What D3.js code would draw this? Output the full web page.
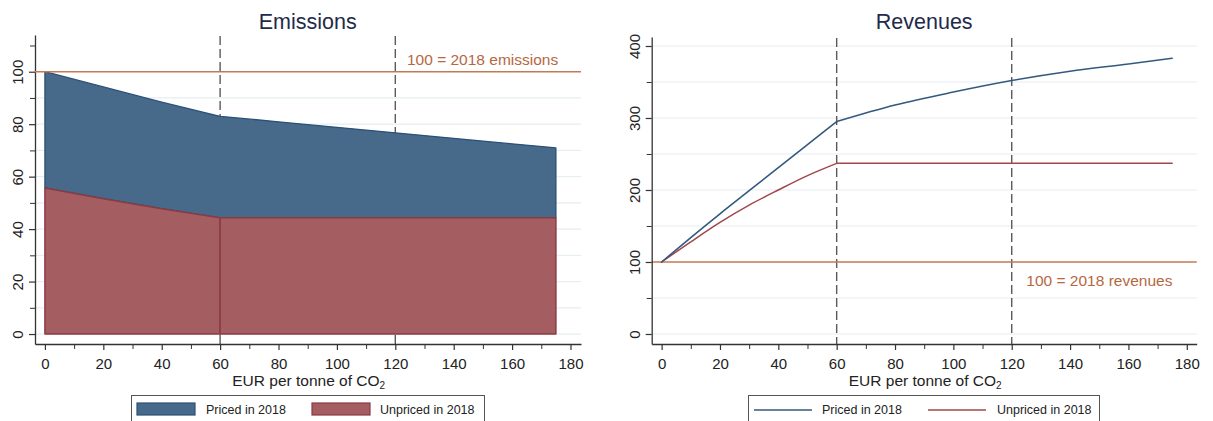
<!DOCTYPE html>
<html>
<head>
<meta charset="utf-8">
<script src="https://cdn.jsdelivr.net/npm/d3@7"></script>
<style>
  html, body { margin: 0; padding: 0; background: #ffffff; }
  svg { display: block; font-family: "Liberation Sans", Arial, sans-serif; }
</style>
</head>
<body>
<svg id="chart" width="1213" height="421"></svg>
<script>
// ---- Data ----
// Carbon price (EUR per tonne of CO2)
const emissionPrices = [0, 20, 40, 60, 80, 100, 120, 140, 160, 175];
// Emissions index (2018 = 100): total (priced + unpriced) and unpriced-in-2018 part
const emissionsPriced = [100, 94.2, 88.4, 83, 80.9, 78.8, 76.7, 74.6, 72.5, 71];
const emissionsUnpriced = [55.7, 51.6, 47.8, 44.3, 44.3, 44.3, 44.3, 44.3, 44.3, 44.3];

const revenuePrices = [0, 10, 20, 30, 40, 50, 60, 80, 100, 120, 140, 160, 175];
// Revenues index (2018 = 100)
const revenuesPriced = [100, 134, 167, 199, 231, 263, 295, 318, 336, 352, 365, 375, 383];
const revenuesUnpriced = [100, 128, 155, 179, 200, 220, 237, 237, 237, 237, 237, 237, 237];

const priceMarkers = [60, 120];
const xTicks = [0, 20, 40, 60, 80, 100, 120, 140, 160, 180];
const xMinorTicks = [10, 30, 50, 70, 90, 110, 130, 150, 170];
const emissionTicks = [0, 20, 40, 60, 80, 100];
const emissionMinorTicks = [10, 30, 50, 70, 90, 110];
const emissionGrid = [0, 10, 20, 30, 40, 50, 60, 70, 80, 90];
const revenueTicks = [0, 100, 200, 300, 400];
const revenueMinorTicks = [50, 150, 250, 350];
const revenueGrid = [0, 50, 150, 200, 250, 300, 350, 400];
const seriesNames = ["Priced in 2018", "Unpriced in 2018"];

// ---- Styles ----
const C = {
  blueFill: "#476a8b",
  blueLine: "#2b5077",
  redFill: "#a45d61",
  redLine: "#8c3a42",
  blueCurve: "#34597f",
  redCurve: "#a2464d",
  ref: "#c37a52",
  refText: "#b5683f",
  grid: "#e6eef1",
  axis: "#333333",
  text: "#222222",
  title: "#1e2b4a",
  dash: "#5a5a5a"
};

const svg = d3.select("#chart");

function panel(opts) {
  const g = svg.append("g");
  const x = d3.scaleLinear().domain(opts.xDomain).range(opts.xRange);
  const y = d3.scaleLinear().domain(opts.yDomain).range(opts.yRange);
  const [x0, x1] = opts.xRange;
  const [yb, yt] = opts.yRange;

  // gridlines
  g.append("g").selectAll("line").data(opts.grid).join("line")
    .attr("x1", x0).attr("x2", x1)
    .attr("y1", d => y(d)).attr("y2", d => y(d))
    .attr("stroke", C.grid).attr("stroke-width", 1.2);

  // vertical dashed markers
  g.append("g").selectAll("line").data(priceMarkers).join("line")
    .attr("x1", d => x(d)).attr("x2", d => x(d))
    .attr("y1", yt + 1).attr("y2", yb)
    .attr("stroke", C.dash).attr("stroke-width", 1.4)
    .attr("stroke-dasharray", "9,4");

  const layer = g.append("g");

  // axes
  const xAxis = g.append("g").attr("transform", `translate(0,${yb})`)
    .call(d3.axisBottom(x).tickValues(xTicks).tickSize(6).tickSizeOuter(0).tickFormat(d3.format("d")));
  g.append("g").attr("transform", `translate(0,${yb})`)
    .call(d3.axisBottom(x).tickValues(xMinorTicks).tickSize(5).tickSizeOuter(0).tickFormat(""))
    .select(".domain").remove();
  xAxis.select(".domain").attr("stroke", C.axis).attr("stroke-width", 1.3);
  xAxis.selectAll(".tick line").attr("stroke", C.axis).attr("stroke-width", 1.2);
  xAxis.selectAll(".tick text").attr("y", 14).attr("fill", C.text)
    .attr("font-size", "15px").attr("font-family", "Liberation Sans, Arial, sans-serif");

  const yAxis = g.append("g").attr("transform", `translate(${x0},0)`)
    .call(d3.axisLeft(y).tickValues(opts.yTicks).tickSize(6).tickSizeOuter(0).tickFormat(d3.format("d")));
  g.append("g").attr("transform", `translate(${x0},0)`)
    .call(d3.axisLeft(y).tickValues(opts.yMinor).tickSize(5).tickSizeOuter(0).tickFormat(""))
    .select(".domain").remove();
  yAxis.select(".domain").attr("stroke", C.axis).attr("stroke-width", 1.3);
  yAxis.selectAll(".tick line").attr("stroke", C.axis).attr("stroke-width", 1.2);
  yAxis.selectAll(".tick text")
    .attr("x", 0).attr("y", -12).attr("dy", 0)
    .attr("transform", "rotate(-90)")
    .attr("text-anchor", "middle").attr("fill", C.text)
    .attr("font-size", "15px").attr("font-family", "Liberation Sans, Arial, sans-serif");
  g.selectAll(".tick line").attr("stroke", C.axis);

  // title
  const cx = (x(0) + x(180)) / 2;
  g.append("text").attr("x", cx).attr("y", 29).attr("text-anchor", "middle")
    .attr("font-size", "21.5px").attr("fill", C.title).text(opts.title);

  // x-axis title with subscript
  const xt = g.append("text").attr("x", cx + 1).attr("y", 386).attr("text-anchor", "middle")
    .attr("font-size", "15.5px").attr("fill", C.text);
  xt.append("tspan").text("EUR per tonne of CO");
  xt.append("tspan").attr("font-size", "10px").attr("dy", 3).text("2");

  return { g, x, y, layer, x0, x1, yb, yt };
}

// ---------- Emissions panel ----------
const L = panel({
  xDomain: [-3.4, 183.6], xRange: [35, 581],
  yDomain: [-3.8, 114], yRange: [344, 35],
  grid: emissionGrid, yTicks: emissionTicks, yMinor: emissionMinorTicks,
  title: "Emissions"
});

const emData = emissionPrices.map((p, i) => ({ p, top: emissionsPriced[i], low: emissionsUnpriced[i] }));

// priced-in-2018 band (between unpriced level and total)
L.layer.append("path").datum(emData)
  .attr("d", d3.area().x(d => L.x(d.p)).y0(d => L.y(d.low)).y1(d => L.y(d.top)))
  .attr("fill", C.blueFill).attr("stroke", C.blueLine).attr("stroke-width", 1.3)
  .attr("stroke-linejoin", "round");

// unpriced-in-2018 band, drawn in two pieces split at the first price marker
const splitAt = priceMarkers[0];
[emData.filter(d => d.p <= splitAt), emData.filter(d => d.p >= splitAt)].forEach(seg => {
  L.layer.append("path").datum(seg)
    .attr("d", d3.area().x(d => L.x(d.p)).y0(L.y(0)).y1(d => L.y(d.low)))
    .attr("fill", C.redFill).attr("stroke", C.redLine).attr("stroke-width", 1.5)
    .attr("stroke-linejoin", "round");
});

// reference line: 100 = 2018 level
L.g.append("line").attr("x1", L.x0).attr("x2", L.x1)
  .attr("y1", L.y(100)).attr("y2", L.y(100))
  .attr("stroke", C.ref).attr("stroke-width", 1.6);
L.g.append("text").attr("x", L.x(124)).attr("y", L.y(100) - 7)
  .attr("font-size", "15.5px").attr("fill", C.refText).text("100 = 2018 emissions");

// ---------- Revenues panel ----------
const R = panel({
  xDomain: [-3.4, 183.4], xRange: [651.7, 1196.7],
  yDomain: [-13.9, 412.5], yRange: [344, 37],
  grid: revenueGrid, yTicks: revenueTicks, yMinor: revenueMinorTicks,
  title: "Revenues"
});

R.layer.append("line").attr("x1", R.x0).attr("x2", R.x1)
  .attr("y1", R.y(100)).attr("y2", R.y(100))
  .attr("stroke", C.ref).attr("stroke-width", 1.6);
R.g.append("text").attr("x", R.x(125)).attr("y", R.y(100) + 24)
  .attr("font-size", "15.5px").attr("fill", C.refText).text("100 = 2018 revenues");

// each revenue curve is smooth on either side of the 60 EUR kink
const kink = revenuePrices.indexOf(priceMarkers[0]);
const smooth = d3.line().x(d => R.x(d[0])).y(d => R.y(d[1])).curve(d3.curveMonotoneX);
function drawCurve(vals, color, width) {
  const pts = revenuePrices.map((p, i) => [p, vals[i]]);
  [pts.slice(0, kink + 1), pts.slice(kink)].forEach(seg => {
    R.layer.append("path").attr("d", smooth(seg))
      .attr("fill", "none").attr("stroke", color).attr("stroke-width", width)
      .attr("stroke-linecap", "round");
  });
}
drawCurve(revenuesUnpriced, C.redCurve, 1.5);
drawCurve(revenuesPriced, C.blueCurve, 1.6);

// ---------- Legends ----------
const legL = svg.append("g");
legL.append("rect").attr("x", 131.5).attr("y", 395.5).attr("width", 353).attr("height", 40)
  .attr("fill", "#fff").attr("stroke", "#555").attr("stroke-width", 1);
[[C.blueFill, C.blueLine, 137, 206], [C.redFill, C.redLine, 312, 380]].forEach(([f, s, sx, tx], i) => {
  legL.append("rect").attr("x", sx).attr("y", 403).attr("width", 58).attr("height", 12)
    .attr("fill", f).attr("stroke", s).attr("stroke-width", 1.2);
  legL.append("text").attr("x", tx).attr("y", 414).attr("font-size", "12.5px")
    .attr("fill", C.text).text(seriesNames[i]);
});

const legR = svg.append("g");
legR.append("rect").attr("x", 748.5).attr("y", 395.5).attr("width", 351).attr("height", 40)
  .attr("fill", "#fff").attr("stroke", "#555").attr("stroke-width", 1);
[[C.blueCurve, 754, 822], [C.redCurve, 928, 997]].forEach(([s, sx, tx], i) => {
  legR.append("line").attr("x1", sx).attr("x2", sx + 58).attr("y1", 410).attr("y2", 410)
    .attr("stroke", s).attr("stroke-width", 1.6);
  legR.append("text").attr("x", tx).attr("y", 414).attr("font-size", "12.5px")
    .attr("fill", C.text).text(seriesNames[i]);
});
</script>
</body>
</html>
